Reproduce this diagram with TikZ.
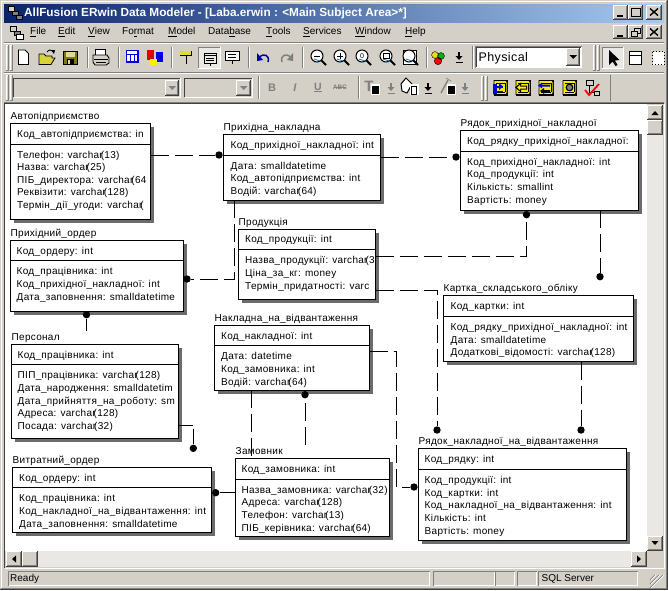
\documentclass[tikz,border=0pt]{standalone}
\usepackage{fontspec}
\setmainfont{Liberation Sans}
\newfontfamily\erfont[LetterSpace=3]{Liberation Sans}
\newfontfamily\chromefont{Liberation Sans}
\newfontfamily\physfont[LetterSpace=3]{Liberation Sans}
\newcommand{\vch}{varchar\kern-2pt(}
\definecolor{winbg}{HTML}{D4D0C8}
\definecolor{winsh}{HTML}{808080}
\definecolor{winok}{HTML}{404040}
\definecolor{dith}{HTML}{EAE8E4}
\definecolor{capl}{HTML}{0A246A}
\definecolor{capr}{HTML}{A6CAF0}
\definecolor{icoy}{HTML}{F0E848}
\definecolor{icob}{HTML}{0000E0}
\tikzset{
  ebox/.style={draw=black,line width=1pt,fill=white,inner sep=0pt,outer sep=0pt,anchor=north west},
  eshadow/.style={fill=black!58,draw=none},
  etitle/.style={anchor=base west,inner sep=0pt,font=\erfont\fontsize{10}{11}\selectfont},
  etext/.style={anchor=base west,inner sep=0pt,font=\erfont\fontsize{10}{11}\selectfont},
  dotend/.style={circle,fill=black,inner sep=0pt,minimum size=7.4pt},
  relbase/.style={line width=0.95pt,black},
  reldash/.style={relbase,dash pattern=on 18pt off 6pt},
  menutext/.style={anchor=west,inner sep=0pt,font=\chromefont\fontsize{10}{12}\selectfont},
}
\newcommand{\erbox}[9]{%
  \fill[eshadow] (#2+3.5,#3+3.5) rectangle (#4+3.5,#5+3.5);
  \node[ebox,minimum width={(#4-#2)*1pt},minimum height={(#5-#3)*1pt}] (#1) at (#2,#3) {};
  \draw[line width=1pt] (#2,#6) -- (#4,#6);
  \node[etitle] (#1-t) at (#2,#3-4) {#7};
  \foreach \rowY/\rowT [count=\ri] in {#9} {
    \node[etext] (#1-\ri) at (#2+#8,\rowY+3.6) {\rowT};
  }
}
\newcommand{\raisedbtn}[4]{%
  \fill[winbg] (#1,#2) rectangle (#3,#4);
  \draw[white,line width=1pt] (#1+.5,#4-1) -- (#1+.5,#2+.5) -- (#3-1,#2+.5);
  \draw[black!75,line width=1pt] (#1,#4-.5) -- (#3-.5,#4-.5) -- (#3-.5,#2);
  \draw[winsh,line width=1pt] (#1+1,#4-1.5) -- (#3-1.5,#4-1.5) -- (#3-1.5,#2+1);
}
\newcommand{\sunkenbox}[4]{%
  \draw[winsh,line width=1pt] (#1+.5,#4-.5) -- (#1+.5,#2+.5) -- (#3-.5,#2+.5);
  \draw[white,line width=1pt] (#1+.5,#4-.5) -- (#3-.5,#4-.5) -- (#3-.5,#2+.5);
}
\newcommand{\grip}[3]{%
  \draw[white,line width=1pt] (#1+.5,#3) -- (#1+.5,#2) -- (#1+2,#2);
  \draw[winsh,line width=1pt] (#1+2.5,#2) -- (#1+2.5,#3) -- (#1,#3);
  \draw[white,line width=1pt] (#1+4.5,#3) -- (#1+4.5,#2) -- (#1+6,#2);
  \draw[winsh,line width=1pt] (#1+6.5,#2) -- (#1+6.5,#3) -- (#1+4,#3);
}
\newcommand{\tsep}[3]{%
  \draw[winsh,line width=1pt] (#1,#2) -- (#1,#3);
  \draw[white,line width=1pt] (#1+1,#2) -- (#1+1,#3);
}
\newcommand{\downarr}[3]{% small toolbar drop arrow
  \fill[#3] (#1-3.5,#2+4) -- (#1+3.5,#2+4) -- (#1,#2+8) -- cycle;
  \fill[#3] (#1-1,#2) rectangle (#1+1,#2+4);
  \fill[#3] (#1-3.5,#2+9.5) rectangle (#1+3.5,#2+10.5);
}
\newcommand{\lens}[2]{%
  \draw[black,line width=2pt] (#1+4,#2+4) -- (#1+9,#2+9);
  \draw[black,fill=white,line width=1pt] (#1,#2) circle (6);
  \draw[cyan!70!blue,line width=.8pt] (#1-3,#2+3) -- (#1+3,#2+5);
}
\newcommand{\yicon}[2]{% yellow toolbar can: left, right
  \fill[black] (#1+1,80) rectangle (#2+1,95.5);
  \fill[yellow!95!black,draw=black,line width=.8pt] (#1+1,80.5) -- (#2-1,80.5) -- (#2,82) -- (#2,93) -- (#2-1,94.5) -- (#1+1,94.5) -- cycle;
  \draw[black,line width=.8pt] (#1+3,83) -- (#2-2,83) (#1+3,92) -- (#2-2,92) (#2-2,83) -- (#2-2,92);
}
\begin{document}
\begin{tikzpicture}[x=1pt,y=-1pt]
\useasboundingbox (0,0) rectangle (668,590);
\fill[winbg] (0,0) rectangle (668,590);
\draw[white,line width=1pt] (1.5,589) -- (1.5,1.5) -- (666,1.5);
\draw[winok,line width=1pt] (0,589.5) -- (667.5,589.5) -- (667.5,0);
\draw[winsh,line width=1pt] (1,588.5) -- (666.5,588.5) -- (666.5,1);
% caption
\shade[left color=capl,right color=capr] (4,4) rectangle (664,22);
\draw[black,fill=winbg,line width=.7pt] (8,6) rectangle (14,11);
\draw[black,fill=winsh,line width=.7pt] (12,11) rectangle (18,15);
\draw[black,fill=winsh,line width=.7pt] (16,15) rectangle (22,19);
\node[anchor=west,inner sep=0pt,text=white,font=\chromefont\bfseries\fontsize{11.8}{13}\selectfont] (cap) at (24,13.2) {AllFusion ERwin Data Modeler - [Laba.erwin : <Main Subject Area>*]};
% caption buttons
\foreach \bx/\ex in {613/628,628/643,646/662} {\raisedbtn{\bx}{5}{\ex}{20}\raisedbtn{\bx}{25}{\ex}{39}}
\foreach \yy in {5,25} {
 \draw[black,line width=1.6pt] (617,\yy+11) -- (623,\yy+11);
 \draw[black,line width=1.4pt] (650,\yy+3.5) -- (658,\yy+10.5) (658,\yy+3.5) -- (650,\yy+10.5);
}
\draw[black,line width=1pt] (631.5,8.5) rectangle (640,16.5);
\draw[black,line width=1.6pt] (631.5,8.5) -- (640,8.5);
\draw[black,line width=.8pt] (631.5,31) rectangle (637,36) (634,31) -- (634,28.5) -- (640,28.5) -- (640,33.5) -- (637,33.5);
% menu
\draw[black,fill=winbg,line width=.7pt] (10,26) rectangle (16,31);
\draw[black,fill=winsh,line width=.7pt] (14,31) rectangle (20,35);
\draw[black,fill=white,line width=.7pt] (16,34) rectangle (23,39);
\node[menutext] (m1) at (30,32) {\underline{F}ile};
\node[menutext] (m2) at (58,32) {\underline{E}dit};
\node[menutext] (m3) at (88,32) {\underline{V}iew};
\node[menutext] (m4) at (122,32) {Fo\underline{r}mat};
\node[menutext] (m5) at (168,32) {\underline{M}odel};
\node[menutext] (m6) at (208,32) {Data\underline{b}ase};
\node[menutext] (m7) at (266,32) {\underline{T}ools};
\node[menutext] (m8) at (303,32) {\underline{S}ervices};
\node[menutext] (m9) at (355,32) {\underline{W}indow};
\node[menutext] (m10) at (405,32) {\underline{H}elp};
\draw[winsh,line width=1pt] (4,42) -- (664,42); \draw[white,line width=1pt] (4,43) -- (664,43);
\draw[winsh,line width=1pt] (4,72) -- (664,72); \draw[white,line width=1pt] (4,73) -- (664,73);
\draw[winsh,line width=1pt] (4,102) -- (664,102);
% toolbar 1
\grip{6}{45}{70}
\draw[black,fill=white,line width=.9pt] (18.5,50) -- (25,50) -- (28.5,53.5) -- (28.5,64.5) -- (18.5,64.5) -- cycle;
\draw[black,fill=icoy!80!olive,line width=.8pt] (39,64.5) -- (39,54) -- (44,54) -- (46,56) -- (52,56) -- (52,58) -- (55,58) -- (51,64.5) -- cycle;
\draw[black,line width=.9pt] (47,52) .. controls (49,49.5) and (51,49.5) .. (53,51);
\fill[black] (51,50) -- (55,50) -- (54,54) -- cycle;
\fill[black] (63,51) rectangle (78,65);
\fill[olive!85!black] (64,52) rectangle (77,64);
\fill[olive!30!white] (66,52) rectangle (75,57);
\fill[black] (67,59) rectangle (74,64);
\fill[olive!30] (68,60) rectangle (70,64);
\tsep{87}{47}{68}
\draw[black,fill=white,line width=.8pt] (95,49.5) rectangle (105,55);
\draw[black,fill=winbg,line width=.9pt] (93,55) -- (107,55) -- (109,58) -- (109,63) -- (106,65) -- (95,65) -- (93,62) -- cycle;
\draw[black,line width=.8pt] (94,59) -- (108,59) (96,62) -- (106,62);
\tsep{118}{47}{68}
\draw[icob,fill=white,line width=1.2pt] (126.5,50.5) rectangle (138,62);
\draw[icob,line width=1pt] (126.5,54) -- (138,54) (130.5,54) -- (130.5,62) (134.5,54) -- (134.5,62);
\fill[red!90!black] (147,50) rectangle (154,60);
\fill[icob] (156,52) rectangle (163,62);
\fill[yellow] (150,59) rectangle (157,65);
\tsep{171}{47}{68}
\fill[black] (180,51) rectangle (192,56);
\fill[icoy!85!olive] (180,51) rectangle (191,55);
\draw[black,line width=1pt] (186,55) -- (186,64);
\fill[dith] (198,47) rectangle (220,68);
\draw[white,line width=1pt] (198,68) -- (220,68) -- (220,47);
\draw[winsh,line width=1pt] (198,68) -- (198,47) -- (220,47);
\draw[black,fill=winbg!50!white,line width=1pt] (204,53) rectangle (216,63);
\draw[black,line width=.8pt] (204,55.5) -- (216,55.5) (206,58) -- (214,58) (206,60.5) -- (214,60.5) (210,63) -- (210,66);
\draw[black,fill=white,line width=1pt] (225.5,51.5) rectangle (239,60.5);
\draw[black,line width=.8pt] (228,54) -- (236,54) (228,57) -- (236,57) (232,60.5) -- (232,64);
\tsep{248}{47}{68}
\draw[icob!70!black,line width=1.5pt] (259,57) .. controls (264,53) and (270,55) .. (268,62);
\fill[icob!70!black] (257,53) -- (257,61) -- (263,60) -- cycle;
\draw[winsh,line width=1.5pt] (291,57) .. controls (286,53) and (280,55) .. (282,62);
\fill[winsh] (293,53) -- (293,61) -- (287,60) -- cycle;
\tsep{302}{47}{68}
\lens{317}{56}
\draw[black,line width=1pt] (314,56) -- (320,56);
\lens{340}{56}
\draw[black,line width=1pt] (337,56) -- (343,56) (340,53) -- (340,59);
\lens{362}{56}
\node[inner sep=0pt,font=\chromefont\fontsize{7}{8}\selectfont] (z0) at (362,56) {0};
\lens{386}{56}
\draw[black,line width=.8pt] (383,53.5) rectangle (389,58.5);
\fill[black] (403,50) rectangle (417,65);
\fill[white] (404,51) rectangle (416,64);
\lens{409}{56}
\tsep{426}{47}{68}
\fill[red] (438,61) circle (3.7);
\fill[yellow!90!black] (435,55) circle (3.4);
\fill[green!70!black] (441,56) circle (3.4);
\draw[black,line width=.4pt] (438,61) circle (3.7) (435,55) circle (3.4) (441,56) circle (3.4);
\downarr{459}{52}{black}
\tsep{472}{46}{69}
\fill[white] (476,47) rectangle (581,67);
\sunkenbox{475}{46}{582}{68}
\draw[winok,line width=1pt] (476.5,67) -- (476.5,47.5) -- (581,47.5);
\node[anchor=west,inner sep=0pt,font=\physfont\fontsize{12.5}{14}\selectfont] (phys) at (478.5,58.5) {Physical};
\raisedbtn{566}{48}{580}{66}
\fill[black] (569.5,55) -- (577,55) -- (573.2,59) -- cycle;
\grip{593}{45}{70}
\fill[dith] (602,47) rectangle (623,68);
\draw[white,line width=1pt] (602,68) -- (623,68) -- (623,47);
\draw[winsh,line width=1pt] (602,68) -- (602,47) -- (623,47);
\fill[black] (609,50) -- (609,65) -- (612.5,61.5) -- (615.5,66) -- (617.5,65) -- (615,60.5) -- (619.5,60) -- cycle;
\draw[black,fill=white,line width=1pt] (629.5,51.5) rectangle (641,64.5);
\draw[black,line width=1pt] (629.5,55.5) -- (641,55.5);
\draw[black,fill=white,line width=1pt,dotted] (652.5,51.5) rectangle (664,64.5);
% toolbar 2
\grip{6}{75}{100}
\draw[winok,line width=1pt] (13.5,97) -- (13.5,78.5) -- (180,78.5);
\draw[white,line width=1pt] (13.5,97.5) -- (180.5,97.5) -- (180.5,78);
\raisedbtn{165}{80}{179}{96}
\fill[winsh] (168.5,86) -- (176,86) -- (172.2,90) -- cycle;
\draw[winok,line width=1pt] (184.5,97) -- (184.5,78.5) -- (252,78.5);
\draw[white,line width=1pt] (184.5,97.5) -- (252.5,97.5) -- (252.5,78);
\raisedbtn{236}{80}{251}{96}
\fill[winsh] (240,86) -- (247.5,86) -- (243.7,90) -- cycle;
\tsep{258}{76}{99}
\node[inner sep=0pt,text=winsh,font=\chromefont\bfseries\fontsize{11}{13}\selectfont] (fb) at (272,88) {B};
\node[inner sep=0pt,text=winsh,font=\chromefont\bfseries\itshape\fontsize{11}{13}\selectfont] (fi) at (295,88) {I};
\node[inner sep=0pt,text=winsh,font=\chromefont\bfseries\fontsize{10.5}{13}\selectfont] (fu) at (318,87.5) {\underline{U}};
\node[inner sep=0pt,text=winsh,font=\chromefont\bfseries\fontsize{6.5}{8}\selectfont] (fa) at (340,87.5) {ABC};
\draw[winsh,line width=.7pt] (334,87.5) -- (346,87.5);
\tsep{358}{76}{99}
\node[inner sep=0pt,text=winsh,font=\chromefont\bfseries\fontsize{15}{16}\selectfont] (ft) at (369,86) {T};
\fill[white] (371,84) rectangle (380,95);
\fill[black] (372,86) rectangle (379,94);
\downarr{391}{83}{winsh}
\draw[black,fill=white,line width=1pt] (401,84) -- (406,78) -- (412,84) -- (407,93) -- (402,91) -- cycle;
\fill[white] (410,84) rectangle (419,95);
\draw[black,line width=.7pt] (411,86) rectangle (416,94);
\downarr{428}{83}{black}
\draw[winsh,line width=1.4pt] (441,93) -- (448,80);
\draw[winsh,line width=.6pt] (446,78) -- (451,81);
\fill[white] (447,84) rectangle (456,95);
\fill[black] (448,86) rectangle (455,94);
\downarr{465}{83}{winsh}
\grip{481}{76}{100}
\yicon{493}{507}
\fill[icob] (493,84) rectangle (497,94);
\fill[icob] (494,85.5) rectangle (503,87.5);
\fill[icob] (499,83) -- (503,86.5) -- (499,90) -- cycle;
\fill[icob] (494,90.5) rectangle (503,92);
\yicon{515}{530}
\fill[black] (515,87.5) -- (521,82.5) -- (521,85.5) -- (527,85.5) -- (527,89.5) -- (521,89.5) -- (521,92.5) -- cycle;
\fill[yellow] (517,87.5) -- (520,85) -- (520,86.5) -- (526,86.5) -- (526,88.5) -- (520,88.5) -- (520,90) -- cycle;
\yicon{538}{553}
\fill[icob] (538,85.5) -- (542,82.5) -- (542,84.5) -- (550,84.5) -- (550,86.5) -- (542,86.5) -- (542,88.5) -- cycle;
\fill[black] (540,91) -- (544,88) -- (544,90) -- (550,90) -- (550,92) -- (544,92) -- (544,94) -- cycle;
\yicon{562}{576}
\draw[black,fill=winsh,line width=1.2pt] (569.5,87.5) circle (3.3);
\draw[black,fill=winbg,line width=.8pt] (586,80) rectangle (593,85);
\draw[black,fill=winbg,line width=.8pt] (594,91) rectangle (599,95);
\draw[black,line width=.8pt] (589,85) -- (589,92) -- (594,92);
\draw[red,line width=1.8pt] (585,90) -- (589,95) -- (599,84);
\draw[winsh,line width=1pt] (610.5,75) -- (610.5,101);
% client area
\fill[white] (5,104) rectangle (647,551);
\draw[winok,line width=1pt] (4.5,568) -- (4.5,103.5) -- (664,103.5);
\draw[white,line width=1pt] (4.5,568.5) -- (664.5,568.5) -- (664.5,103.5);
% scrollbars
\fill[dith] (647,105) rectangle (663,551);
\fill[dith] (5.5,551) rectangle (647,567);
\raisedbtn{647}{105}{663}{120}
\fill[black] (651.5,115) -- (658.5,115) -- (655,111) -- cycle;
\raisedbtn{647}{120}{663}{135}
\raisedbtn{647}{536}{663}{551}
\fill[black] (651.5,541) -- (658.5,541) -- (655,545) -- cycle;
\raisedbtn{6}{551}{22}{567}
\fill[black] (16,555.5) -- (16,562.5) -- (12,559) -- cycle;
\raisedbtn{22}{551}{38}{567}
\raisedbtn{631}{551}{647}{567}
\fill[black] (637,555.5) -- (637,562.5) -- (641,559) -- cycle;
% status bar
\sunkenbox{8}{571}{430}{586}
\sunkenbox{433}{571}{495}{586}
\sunkenbox{495}{571}{515}{586}
\sunkenbox{517}{571}{537}{586}
\sunkenbox{538}{571}{638}{586}
\node[anchor=west,inner sep=0pt,font=\chromefont\fontsize{10}{12}\selectfont] (st1) at (10,578.7) {Ready};
\node[anchor=west,inner sep=0pt,font=\chromefont\fontsize{10}{12}\selectfont] (st2) at (541.5,578.7) {SQL Server};
\foreach \g in {0,4,8} {
 \draw[winsh,line width=1pt] (663-\g,575) -- (650,588-\g);
 \draw[white,line width=.7pt] (664-\g,575) -- (651,588-\g);
}
% entities
\erbox{avto}{10.5}{123.5}{150.5}{219}{144}{Автопідприємство}{6.5}{134/Код\_автопідприємства: in,155/Телефон: \vch13),167.3/Назва: \vch25),180/ПІБ\_директора: \vch64,192.3/Реквізити: \vch128),205/Термін\_дії\_угоди: \vch}
\erbox{pord}{10.5}{240.5}{183.5}{311}{260.5}{Прихідний\_ордер}{6}{250.7/Код\_ордеру: int,271/Код\_працівника: int,284/Код\_прихідної\_накладної: int,296.7/Дата\_заповнення: smalldatetime}
\erbox{pers}{11.5}{344.5}{178.5}{438}{364.5}{Персонал}{6}{354.7/Код\_працівника: int,375/ПІП\_працівника: \vch128),388/Дата\_народження: smalldatetim,401/Дата\_прийняття\_на\_роботу: sm,413/Адреса: \vch128),426/Посада: \vch32)}
\erbox{vord}{12.5}{467.5}{211.5}{532}{487.5}{Витратний\_ордер}{6.5}{477.7/Код\_ордеру: int,497.7/Код\_працівника: int,511/Код\_накладної\_на\_відвантаження: int,524/Дата\_заповнення: smalldatetime}
\erbox{pnak}{223.5}{134.5}{380.5}{200}{155.5}{Прихідна\_накладна}{7}{145/Код\_прихідної\_накладної: int,165.7/Дата: smalldatetime,178/Код\_автопідприємства: int,191/Водій: \vch64)}
\erbox{prod}{238.5}{229.5}{375.5}{299}{249.5}{Продукція}{6.5}{239.3/Код\_продукції: int,260/Назва\_продукції: \vch3,273/Ціна\_за\_кг: money,285.7/Термін\_придатності: varc}
\erbox{rpn}{460.5}{130.5}{638.5}{210}{151.5}{Рядок\_прихідної\_накладної}{6.5}{140.7/Код\_рядку\_прихідної\_накладної:,161.7/Код\_прихідної\_накладної: int,174.3/Код\_продукції: int,186.7/Кількість: smallint,200/Вартість: money}
\erbox{kart}{443.5}{295.5}{633.5}{361.5}{316}{Картка\_складського\_обліку}{7}{305.7/Код\_картки: int,326.7/Код\_рядку\_прихідної\_накладної: int,339.6/Дата: smalldatetime,352/Додаткові\_відомості: \vch128)}
\erbox{nvid}{214.5}{325.5}{369.5}{390}{345.5}{Накладна\_на\_відвантаження}{6.5}{336/Код\_накладної: int,355.7/Дата: datetime,369/Код\_замовника: int,381.7/Водій: \vch64)}
\erbox{zam}{235.5}{458.5}{389.5}{536}{479.5}{Замовник}{6}{469/Код\_замовника: int,489.7/Назва\_замовника: \vch32),502/Адреса: \vch128),515/Телефон: \vch13),527.7/ПІБ\_керівника: \vch64)}
\erbox{rnv}{418.5}{448.5}{626.5}{540}{469.5}{Рядок\_накладної\_на\_відвантаження}{6}{459/Код\_рядку: int,480/Код\_продукції: int,492.7/Код\_картки: int,505/Код\_накладної\_на\_відвантаження: int,517.7/Кількість: int,531/Вартість: money}
% end dots and bends
\node[dotend] (d1) at (219,155) {};
\node[dotend] (d2) at (456,157) {};
\node[dotend] (d3) at (187,279) {};
\node[dotend] (d4) at (526.5,214.7) {};
\node[dotend] (d5) at (437,430) {};
\node[dotend] (d6) at (600,276.7) {};
\node[dotend] (d7) at (581,430) {};
\node[dotend] (d8) at (86.5,314.7) {};
\node[dotend] (d9) at (193.3,448.3) {};
\node[dotend] (d10) at (215.7,492.7) {};
\node[dotend] (d11) at (305,394.7) {};
\node[dotend] (d12) at (414,487) {};
\coordinate (b3) at (234.7,279);
\coordinate (b4) at (526.5,256.7);
\coordinate (b5) at (437,290);
\coordinate (b9) at (193.3,425);
\coordinate (b13a) at (396.7,351.7);
\coordinate (b13b) at (396.7,487);
\coordinate (x12) at (251.7,390);
% connectors
\draw[reldash] (avto.east |- d1) -- (d1);
\draw[relbase] (d1) -- (pnak.west |- d1);
\draw[reldash] (pnak.east |- d2) -- (d2);
\draw[reldash] (pnak.south -| b3) -- (b3) -- (d3);
\draw[reldash] (prod.east |- b4) -- (b4) -- (d4);
\draw[reldash] (prod.east |- b5) -- (b5) -- (d5);
\draw[reldash] (rpn.south -| d6) -- (d6);
\draw[reldash] (kart.south -| d7) -- (d7);
\draw[relbase,dash pattern=on 0pt off 14pt on 20pt] (pers.north -| d8) -- (d8);
\draw[relbase,dash pattern=on 14pt off 5pt on 20pt] (pers.east |- b9) -- (b9) -- (d9);
\draw[relbase] (d10) -- (zam.west |- d10);
\draw[reldash] (x12) -- (zam.north -| x12);
\draw[relbase,dash pattern=on 0pt off 13.5pt on 18pt off 6pt on 18pt off 30pt] (zam.north -| d11) -- (d11);
\draw[reldash] (nvid.east |- b13a) -- (b13a) -- (b13b) -- (d12);
\draw[relbase] (d12) -- (rnv.west |- d12);
\end{tikzpicture}
\end{document}
